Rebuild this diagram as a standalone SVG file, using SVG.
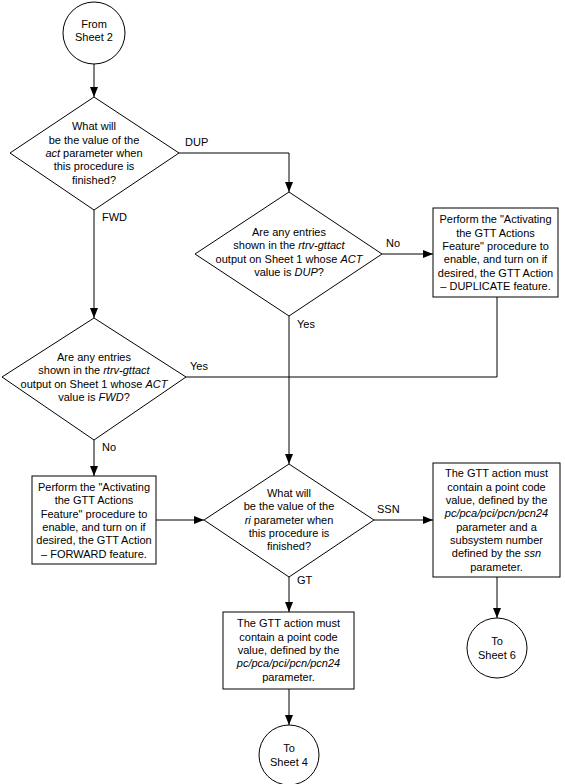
<svg xmlns="http://www.w3.org/2000/svg" width="565" height="784" viewBox="0 0 565 784">
<defs>
<marker id="arr" markerUnits="userSpaceOnUse" markerWidth="10" markerHeight="10" viewBox="0 0 10 10" refX="10" refY="5" orient="auto">
<path d="M0,1 L10,5 L0,9 Z" fill="#000"/>
</marker>
<style>
.s{fill:#fff;stroke:#000;stroke-width:1}
.c{fill:none;stroke:#000;stroke-width:1}
text{font-family:"Liberation Sans",Arial,sans-serif;font-size:11px;fill:#000}
.m{text-anchor:middle}
.i{font-style:italic}
</style>
</defs>
<rect width="565" height="784" fill="#fff"/>
<g id="connectors">
<path class="c" d="M94,64 V97" marker-end="url(#arr)"/>
<path class="c" d="M179,153 H289 V192" marker-end="url(#arr)"/>
<path class="c" d="M94,210 V318" marker-end="url(#arr)"/>
<path class="c" d="M382,254 H433" marker-end="url(#arr)"/>
<path class="c" d="M497,297 V377 H289"/>
<path class="c" d="M186,377 H289"/>
<path class="c" d="M289,316 V464" marker-end="url(#arr)"/>
<path class="c" d="M94,440 V476" marker-end="url(#arr)"/>
<path class="c" d="M156,520 H204" marker-end="url(#arr)"/>
<path class="c" d="M374,520 H433" marker-end="url(#arr)"/>
<path class="c" d="M497,577 V618" marker-end="url(#arr)"/>
<path class="c" d="M289,577 V612" marker-end="url(#arr)"/>
<path class="c" d="M289,689 V725" marker-end="url(#arr)"/>
<text x="185" y="146">DUP</text>
<text x="102" y="221">FWD</text>
<text x="386" y="247">No</text>
<text x="297" y="328">Yes</text>
<text x="190" y="370">Yes</text>
<text x="102" y="451">No</text>
<text x="377" y="513">SSN</text>
<text x="297" y="584">GT</text>
</g>
<g id="start">
<circle class="s" cx="94" cy="33" r="31"/>
<text class="m" x="94" y="28">From</text>
<text class="m" x="94" y="41.3">Sheet 2</text>
</g>
<g id="dec-act">
<path class="s" d="M94,97 L179,153 L94,210 L10,153 Z"/>
<text class="m" x="94" y="130.4">What will</text>
<text class="m" x="94" y="143.7">be the value of the</text>
<text class="m" x="94" y="157"><tspan class="i">act</tspan> parameter when</text>
<text class="m" x="94" y="170.3">this procedure is</text>
<text class="m" x="94" y="183.6">finished?</text>
</g>
<g id="dec-dup">
<path class="s" d="M289,192 L382,254 L289,316 L195,254 Z"/>
<text class="m" x="289" y="236">Are any entries</text>
<text class="m" x="289" y="249.3">shown in the <tspan class="i">rtrv-gttact</tspan></text>
<text class="m" x="289" y="262.7">output on Sheet 1 whose <tspan class="i">ACT</tspan></text>
<text class="m" x="289" y="276">value is <tspan class="i">DUP</tspan>?</text>
</g>
<g id="box-dup">
<rect class="s" x="433" y="208" width="125" height="89"/>
<text class="m" x="495.5" y="223.2">Perform the "Activating</text>
<text class="m" x="495.5" y="236.5">the GTT Actions</text>
<text class="m" x="495.5" y="249.8">Feature" procedure to</text>
<text class="m" x="495.5" y="263.2">enable, and turn on if</text>
<text class="m" x="495.5" y="276.5">desired, the GTT Action</text>
<text class="m" x="495.5" y="289.8">– DUPLICATE feature.</text>
</g>
<g id="dec-fwd">
<path class="s" d="M94,318 L186,377 L94,440 L2,377 Z"/>
<text class="m" x="94" y="361">Are any entries</text>
<text class="m" x="94" y="374.3">shown in the <tspan class="i">rtrv-gttact</tspan></text>
<text class="m" x="94" y="387.7">output on Sheet 1 whose <tspan class="i">ACT</tspan></text>
<text class="m" x="94" y="401">value is <tspan class="i">FWD</tspan>?</text>
</g>
<g id="box-fwd">
<rect class="s" x="32" y="476" width="124" height="88"/>
<text class="m" x="94" y="491">Perform the "Activating</text>
<text class="m" x="94" y="504.3">the GTT Actions</text>
<text class="m" x="94" y="517.7">Feature" procedure to</text>
<text class="m" x="94" y="531">enable, and turn on if</text>
<text class="m" x="94" y="544.3">desired, the GTT Action</text>
<text class="m" x="94" y="557.7">– FORWARD feature.</text>
</g>
<g id="dec-ri">
<path class="s" d="M289,464 L374,520 L289,577 L204,520 Z"/>
<text class="m" x="289" y="497">What will</text>
<text class="m" x="289" y="510.3">be the value of the</text>
<text class="m" x="289" y="523.7"><tspan class="i">ri</tspan> parameter when</text>
<text class="m" x="289" y="537">this procedure is</text>
<text class="m" x="289" y="550.3">finished?</text>
</g>
<g id="box-ssn">
<rect class="s" x="433" y="463" width="127" height="114"/>
<text class="m" x="496.5" y="477.3">The GTT action must</text>
<text class="m" x="496.5" y="490.7">contain a point code</text>
<text class="m" x="496.5" y="504">value, defined by the</text>
<text class="m i" x="496.5" y="517.3">pc/pca/pci/pcn/pcn24</text>
<text class="m" x="496.5" y="530.7">parameter and a</text>
<text class="m" x="496.5" y="544">subsystem number</text>
<text class="m" x="496.5" y="557.3">defined by the <tspan class="i">ssn</tspan></text>
<text class="m" x="496.5" y="570.7">parameter.</text>
</g>
<g id="end-6">
<circle class="s" cx="497" cy="648" r="30"/>
<text class="m" x="497" y="645.3">To</text>
<text class="m" x="497" y="658.7">Sheet 6</text>
</g>
<g id="box-gt">
<rect class="s" x="223" y="612" width="131" height="77"/>
<text class="m" x="288.5" y="627.3">The GTT action must</text>
<text class="m" x="288.5" y="640.7">contain a point code</text>
<text class="m" x="288.5" y="654">value, defined by the</text>
<text class="m i" x="288.5" y="667.3">pc/pca/pci/pcn/pcn24</text>
<text class="m" x="288.5" y="680.7">parameter.</text>
</g>
<g id="end-4">
<circle class="s" cx="289" cy="755" r="30"/>
<text class="m" x="289" y="752.3">To</text>
<text class="m" x="289" y="765.7">Sheet 4</text>
</g>
</svg>
